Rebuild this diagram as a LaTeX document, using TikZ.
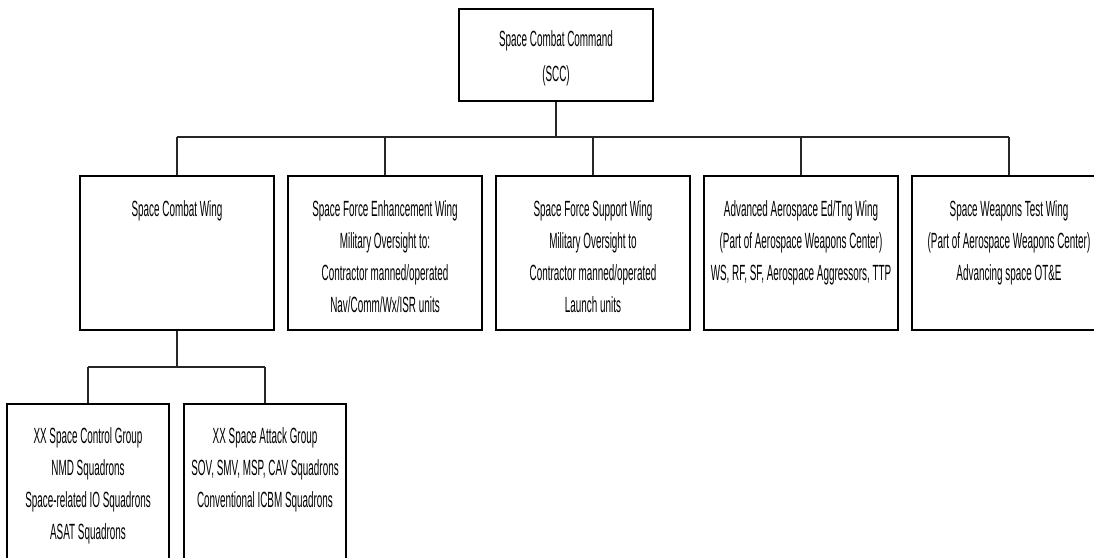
\documentclass[tikz,border=0pt]{standalone}
\usepackage{fontspec}
\setmainfont[FakeStretch=0.45]{Liberation Sans}
\usetikzlibrary{positioning}
\tikzstyle{unitbox}=[draw, line width=1.5pt, minimum width=194pt, minimum height=154pt, inner sep=0pt]
\tikzstyle{groupbox}=[draw, line width=1.5pt, minimum width=162pt, minimum height=180pt, inner sep=0pt]
\tikzstyle{unittext}=[align=center, inner sep=0pt, anchor=north, font=\fontsize{22}{32}\selectfont]
\tikzstyle{link}=[line width=1.2pt, draw=black!85]
\tikzstyle{bus}=[line width=1.8pt, draw=black!85]

\begin{document}
\begin{tikzpicture}[x=1pt,y=-1pt]
	\fill[white] (0,0) rectangle (1094,557);
	\useasboundingbox (0,0) rectangle (1094,557);
	% command
	\node[unitbox, minimum height=92pt, anchor=north] (scc) at (556,8) {};
	\node[unittext, font=\fontsize{22}{35}\selectfont, below=22pt of scc.north] (scct) {Space Combat Command\\(SCC)};
	% wings
	\node[unitbox, anchor=north] (w1) at (177,175) {};
	\node[unitbox, anchor=north] (w2) at (385,175) {};
	\node[unitbox, anchor=north] (w3) at (593,175) {};
	\node[unitbox, anchor=north] (w4) at (801,175) {};
	\node[unitbox, anchor=north] (w5) at (1009,175) {};
	\node[unittext, below=25pt of w1.north] (w1t) {Space Combat Wing};
	\node[unittext, below=25pt of w2.north] (w2t) {Space Force Enhancement Wing\\Military Oversight to:\\Contractor manned/operated\\Nav/Comm/Wx/ISR units};
	\node[unittext, below=25pt of w3.north] (w3t) {Space Force Support Wing\\Military Oversight to\\Contractor manned/operated\\Launch units};
	\node[unittext, below=25pt of w4.north] (w4t) {Advanced Aerospace Ed/Tng Wing\\(Part of Aerospace Weapons Center)\\WS, RF, SF, Aerospace Aggressors, TTP};
	\node[unittext, below=25pt of w5.north] (w5t) {Space Weapons Test Wing\\(Part of Aerospace Weapons Center)\\Advancing space OT\&E};
	% groups
	\node[groupbox, anchor=north] (ga) at (88,403) {};
	\node[groupbox, anchor=north] (gb) at (265,403) {};
	\node[unittext, below=24pt of ga.north] (gat) {XX Space Control Group\\NMD Squadrons\\Space-related IO Squadrons\\ASAT Squadrons};
	\node[unittext, below=24pt of gb.north] (gbt) {XX Space Attack Group\\SOV, SMV, MSP, CAV Squadrons\\Conventional ICBM Squadrons};
	% connectors
	\coordinate (busL) at (177,137);
	\coordinate (busR) at (1009,137);
	\coordinate (subL) at (88,367);
	\coordinate (subR) at (265,367);
	\draw[bus] (busL) -- (busR);
	\draw[link] (scc.south) -- (scc.south |- busL);
	\draw[link] (w1.north) -- (busL);
	\draw[link] (w2.north) -- (w2.north |- busL);
	\draw[link] (w3.north) -- (w3.north |- busL);
	\draw[link] (w4.north) -- (w4.north |- busL);
	\draw[link] (w5.north) -- (busR);
	\draw[link] (w1.south) -- (w1.south |- subL);
	\draw[bus] (subL) -- (subR);
	\draw[link] (ga.north) -- (subL);
	\draw[link] (gb.north) -- (subR);
\end{tikzpicture}
\end{document}
